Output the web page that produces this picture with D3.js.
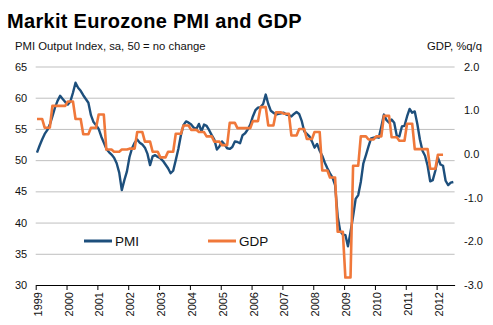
<!DOCTYPE html>
<html>
<head>
<meta charset="utf-8">
<script src="https://cdn.jsdelivr.net/npm/d3@7/dist/d3.min.js"></script>
<style>
  body { margin: 0; background: #fff; }
  text { font-family: "Liberation Sans", Arial, sans-serif; fill: #111; }
</style>
</head>
<body>
<div id="chart"></div>
<script>
// year labels on the category axis
var years = ["1999", "2000", "2001", "2002", "2003", "2004", "2005",
    "2006", "2007", "2008", "2009", "2010", "2011", "2012"];

// PMI output index, monthly, Jan 1999 - Jul 2012
var pmi = [
    51.2, 52.3, 53.3, 54.2, 54.8, 55.7, 57.0, 58.4, 59.5, 60.3, 59.8, 59.3,
    58.9, 59.4, 60.8, 62.4, 61.6, 61.1, 60.4, 59.8, 59.2, 57.2, 56.1, 55.6,
    55.0, 53.8, 52.8, 51.8, 51.3, 50.9, 50.4, 49.5, 48.0, 45.2, 46.8, 48.2,
    50.5, 51.9, 52.8, 53.3, 52.8, 52.5, 52.0, 51.0, 49.2, 50.6, 50.8, 50.5,
    50.3, 49.9, 49.3, 48.7, 47.9, 48.3, 50.0, 51.8, 54.0, 55.6, 56.2, 56.0,
    55.7, 55.2, 55.0, 55.8, 54.6, 55.7, 55.5, 54.8, 54.0, 53.3, 51.7, 52.2,
    53.0, 52.5, 51.9, 51.8, 52.1, 53.0, 52.9, 52.7, 54.0, 54.3, 54.9, 55.7,
    57.0, 58.0, 58.4, 58.5, 59.0, 60.5, 59.0, 57.9, 57.6, 57.3, 57.4, 57.5,
    57.6, 57.3, 57.2, 57.0, 57.4, 57.7, 57.4, 56.3, 54.6, 54.2, 53.8, 53.0,
    52.0, 52.6, 51.5, 50.7, 49.6, 48.7, 47.9, 47.2, 46.0, 41.0, 38.6, 38.1,
    38.0, 36.2, 38.5, 41.0, 43.8, 44.4, 46.5, 49.5, 50.8, 52.2, 53.5, 53.6,
    53.7, 53.6, 55.4, 57.3, 56.4, 56.0, 56.5, 56.0, 53.9, 53.8, 55.4, 55.5,
    57.0, 58.2, 57.6, 57.8, 55.8, 53.3, 51.5, 50.7, 49.1, 46.6, 46.8, 48.3,
    50.4, 49.3, 49.1, 46.7, 46.0, 46.4, 46.5
];

// GDP %q/q, quarterly, 1999 Q1 - 2012 Q1
var gdp = [
    0.8, 0.6, 1.1, 1.1,
    1.2, 0.8, 0.45, 0.6,
    0.9, 0.1, 0.05, 0.1,
    0.12, 0.5, 0.28, 0.05,
    -0.08, 0.05, 0.46, 0.65,
    0.55, 0.5, 0.4, 0.28,
    0.2, 0.71, 0.59, 0.59,
    0.75, 1.07, 0.65, 0.95,
    0.92, 0.42, 0.57, 0.34,
    0.5, -0.38, -0.54, -1.78,
    -2.83, -0.27, 0.4, 0.33,
    0.4, 0.87, 0.38, 0.3,
    0.69, 0.11, 0.11, -0.34,
    -0.02
];

var leftTicks = [30, 35, 40, 45, 50, 55, 60, 65];
var rightTicks = [-3, -2, -1, 0, 1, 2];

var W = 493, H = 325;
var margin = { top: 66.5, right: 38.4, bottom: 40, left: 35.7 },
    width = W - margin.left - margin.right,
    height = H - margin.top - margin.bottom;

var blue = "#1d4f7c", orange = "#f0783a";

var svg = d3.select("#chart")
    .append("svg")
    .attr("width", W)
    .attr("height", H);

svg.append("text")
    .attr("x", 7)
    .attr("y", 28)
    .style("font-size", "20px")
    .style("font-weight", "bold")
    .style("letter-spacing", "0.3px")
    .style("fill", "#000")
    .text("Markit Eurozone PMI and GDP");

svg.append("text")
    .attr("x", 15)
    .attr("y", 50)
    .style("font-size", "11.3px")
    .text("PMI Output Index, sa, 50 = no change");

svg.append("text")
    .attr("x", 482)
    .attr("y", 50)
    .attr("text-anchor", "end")
    .style("font-size", "11.3px")
    .text("GDP, %q/q");

var g = svg.append("g")
    .attr("transform", "translate(" + margin.left + "," + margin.top + ")");

var x = d3.scaleLinear().domain([0, pmi.length]).range([0, width]);
var yL = d3.scaleLinear().domain([30, 65]).range([height, 0]);
var yR = d3.scaleLinear().domain([-3, 2]).range([height, 0]);

// gridlines
g.append("g")
    .call(d3.axisLeft(yL).tickValues(leftTicks.slice(1)).tickSize(-width).tickFormat(""))
    .call(function (a) { a.select(".domain").remove(); })
    .selectAll("line")
    .attr("stroke", "#bfbfbf");

// left labels
g.append("g")
    .call(d3.axisLeft(yL).tickValues(leftTicks).tickSize(0).tickPadding(8.5))
    .call(function (a) { a.select(".domain").remove(); })
    .selectAll("text")
    .style("font-size", "11px");

// right labels
g.append("g")
    .attr("transform", "translate(" + width + ",0)")
    .call(d3.axisRight(yR).tickValues(rightTicks).tickSize(0).tickPadding(9.4)
        .tickFormat(function (d) { return d.toFixed(1); }))
    .call(function (a) { a.select(".domain").remove(); })
    .selectAll("text")
    .style("font-size", "11px");

// x axis
var xAxis = g.append("g")
    .attr("transform", "translate(0," + height + ")")
    .call(d3.axisBottom(x)
        .tickValues(d3.range(0, years.length * 12, 12))
        .tickSize(5)
        .tickSizeOuter(0)
        .tickFormat(function (d, i) { return years[i]; }));
xAxis.select(".domain").attr("stroke", "#000");
xAxis.selectAll("line").attr("stroke", "#000");
xAxis.selectAll("text")
    .style("font-size", "11px")
    .attr("transform", "rotate(-90)")
    .attr("text-anchor", "end")
    .attr("x", -7)
    .attr("y", 0)
    .attr("dy", "0.5em");

// GDP repeated for each month of its quarter
var gdpMonthly = [];
gdp.forEach(function (v) {
    for (var k = 0; k < 3; k++) gdpMonthly.push(v);
});

g.append("path")
    .datum(pmi)
    .attr("fill", "none")
    .attr("stroke", blue)
    .attr("stroke-width", 2.4)
    .attr("stroke-linejoin", "round")
    .attr("d", d3.line()
        .x(function (d, i) { return x(i + 0.5); })
        .y(function (d) { return yL(d); }));

g.append("path")
    .datum(gdpMonthly)
    .attr("fill", "none")
    .attr("stroke", orange)
    .attr("stroke-width", 2.6)
    .attr("stroke-linejoin", "round")
    .attr("d", d3.line()
        .x(function (d, i) { return x(i + 0.5); })
        .y(function (d) { return yR(d); }));

// legend
var legend = [
    { name: "PMI", color: blue, x: 84 },
    { name: "GDP", color: orange, x: 208 }
];
legend.forEach(function (l) {
    svg.append("line")
        .attr("x1", l.x).attr("x2", l.x + 28)
        .attr("y1", 241).attr("y2", 241)
        .attr("stroke", l.color)
        .attr("stroke-width", 3);
    svg.append("text")
        .attr("x", l.x + 31)
        .attr("y", 245.5)
        .style("font-size", "13.5px")
        .text(l.name);
});
</script>
</body>
</html>
